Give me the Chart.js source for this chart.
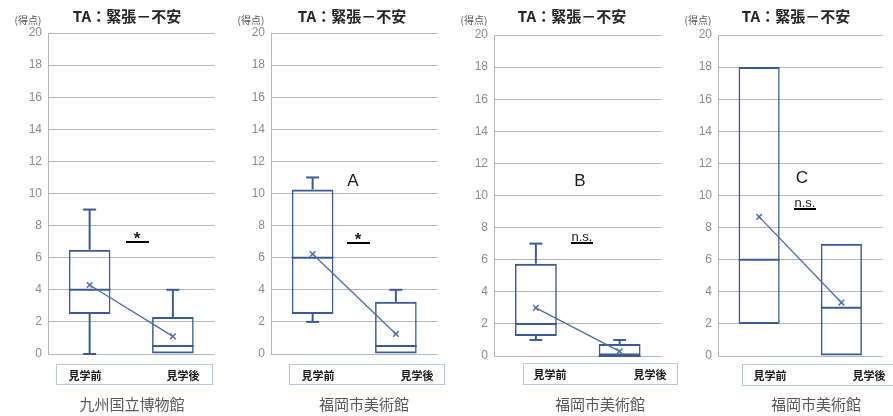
<!DOCTYPE html>
<html lang="ja">
<head>
<meta charset="utf-8">
<script src="https://cdn.jsdelivr.net/npm/chart.js@4.4.1/dist/chart.umd.min.js"></script>
<style>
  body { margin: 0; background: #fff; }
  #wrap { position: relative; width: 893px; height: 416px; overflow: hidden; font-family: 'Noto Sans CJK JP', 'Liberation Sans', sans-serif; }
  canvas { position: absolute; top: 0; }
  .t { position: absolute; white-space: nowrap; line-height: 1; transform: translate(-50%, -50%); }
  .title { font-size: 15px; font-weight: bold; color: #262626; }
  .unit { font-size: 10px; color: #595959; }
  .cat { font-size: 11px; font-weight: bold; color: #1a1a1a; }
  .venue { font-size: 15px; color: #595959; }
  .group { font-size: 17px; color: #1a1a1a; font-family: 'Liberation Sans', sans-serif; }
  .star { font-size: 17px; font-weight: bold; color: #1a1a1a; font-family: 'Liberation Sans', sans-serif; }
  .ns { font-size: 13px; color: #1a1a1a; font-family: 'Liberation Sans', sans-serif; }
  .box { position: absolute; border: 1px solid #b4c7e7; box-sizing: border-box; }
  .bar { position: absolute; height: 2px; background: #000; }
</style>
</head>
<body>
<div id="wrap"></div>
<script>
// データ
const categories = ['見学前', '見学後'];
const venueNames = ['九州国立博物館', '福岡市美術館', '福岡市美術館', '福岡市美術館'];
const chartTitle = 'TA：緊張－不安';
const unitLabel = '(得点)';
const groupMarks = ['', 'A', 'B', 'C'];
const sigMarks = ['*', '*', 'n.s.', 'n.s.'];
const yMin = 0, yMax = 20, yStep = 2;

const minValues = [[0, 0], [2, 0], [1, 0], [2, 0]];
const q1Values = [[2.5, 0], [2.5, 0], [1.25, 0], [2, 0]];
const medianValues = [[4, 0.5], [6, 0.5], [2, 0], [6, 3]];
const q3Values = [[6.5, 2.3], [10.25, 3.25], [5.75, 0.75], [18, 7]];
const maxValues = [[9, 4], [11, 4], [7, 1], [18, 7]];
const meanValues = [[4.3, 1.1], [6.23, 1.25], [3.0, 0.29], [8.67, 3.33]];

// レイアウト (px)
const axisLeft = [48, 271, 494, 718];
const axisRight = [218, 441, 665, 886];
const topY = [33, 33, 35, 35];
const bottomY = [354, 354, 356, 356];
const titleX = [127, 352, 572, 796];
const unitX = [28, 251, 474, 698];
const legendBox = [[56, 364, 157, 21], [289, 364, 156, 21], [523, 363, 155, 22], [742, 364, 156, 22]];
const catX = [[85, 183], [318, 417], [550, 650], [770, 869]];
const venueX = [132, 364, 600, 816];
const groupPos = [null, [353, 180], [580, 180], [802, 177]];
const sigPos = [[137, 241], [358, 242], [582, 242], [805, 208]];

const boxColor = '#3b5b98';
const meanColor = '#4a6fae';
const gridColor = '#b7b7b7';

const wrap = document.getElementById('wrap');

function addText(text, x, y, cls) {
  const d = document.createElement('div');
  d.className = 't ' + cls;
  d.textContent = text;
  d.style.left = x + 'px';
  d.style.top = y + 'px';
  wrap.appendChild(d);
}

function addBar(x1, x2, y) {
  const d = document.createElement('div');
  d.className = 'bar';
  d.style.left = x1 + 'px';
  d.style.width = (x2 - x1) + 'px';
  d.style.top = y + 'px';
  wrap.appendChild(d);
}

// ひげと中央値
const boxWhisker = {
  id: 'boxWhisker',
  beforeDatasetsDraw(chart, args, opts) {
    const i = opts.panel;
    const ctx = chart.ctx;
    const xs = chart.scales.x, ys = chart.scales.y;
    const bars = chart.getDatasetMeta(1).data;
    ctx.save();
    ctx.strokeStyle = boxColor;
    ctx.lineWidth = 2;
    categories.forEach((c, j) => {
      const cx = xs.getPixelForValue(j);
      const half = bars[j].width / 2;
      const line = (x1, y1, x2, y2) => {
        ctx.beginPath(); ctx.moveTo(x1, y1); ctx.lineTo(x2, y2); ctx.stroke();
      };
      const yMed = ys.getPixelForValue(medianValues[i][j]);
      line(cx - half, yMed, cx + half, yMed);
      if (maxValues[i][j] > q3Values[i][j]) {
        const yT = ys.getPixelForValue(maxValues[i][j]);
        line(cx, ys.getPixelForValue(q3Values[i][j]), cx, yT);
        line(cx - 6.5, yT, cx + 6.5, yT);
      }
      if (minValues[i][j] < q1Values[i][j]) {
        const yB = ys.getPixelForValue(minValues[i][j]);
        line(cx, ys.getPixelForValue(q1Values[i][j]), cx, yB);
        line(cx - 6.5, yB, cx + 6.5, yB);
      }
    });
    ctx.restore();
  }
};

function makePanel(i) {
  const cv = document.createElement('canvas');
  const left = axisLeft[i] - 48;
  const w = axisRight[i] - left + 2;
  cv.width = w;
  cv.height = 416;
  cv.style.left = left + 'px';
  cv.style.width = w + 'px';
  cv.style.height = '416px';
  wrap.appendChild(cv);

  new Chart(cv, {
    type: 'bar',
    data: {
      labels: categories,
      datasets: [
        {
          type: 'line',
          data: meanValues[i],
          borderColor: meanColor,
          borderWidth: 1.3,
          pointStyle: 'crossRot',
          pointRadius: 4,
          pointBorderWidth: 1.5,
          pointBorderColor: meanColor,
          fill: false
        },
        {
          type: 'bar',
          data: categories.map((c, j) => [q1Values[i][j], q3Values[i][j]]),
          backgroundColor: 'rgba(0,0,0,0)',
          borderColor: boxColor,
          borderWidth: { top: 2, bottom: 2, left: 1.5, right: 1.5 },
          borderSkipped: false,
          barPercentage: 0.5,
          categoryPercentage: 1
        }
      ]
    },
    options: {
      responsive: false,
      animation: false,
      layout: { padding: { top: topY[i], bottom: 416 - bottomY[i], left: 0, right: 2 } },
      plugins: {
        legend: { display: false },
        tooltip: { enabled: false },
        boxWhisker: { panel: i }
      },
      scales: {
        x: { display: false },
        y: {
          min: yMin,
          max: yMax,
          ticks: { stepSize: yStep, color: '#8c8c8c', padding: 6, font: { size: 12, family: 'Liberation Sans' } },
          grid: { color: gridColor, drawTicks: false },
          border: { color: gridColor },
          afterFit(s) { s.width = 48; }
        }
      }
    },
    plugins: [boxWhisker]
  });

  // 文字
  addText(chartTitle, titleX[i], 15, 'title');
  addText(unitLabel, unitX[i], 20, 'unit');
  const b = legendBox[i];
  const box = document.createElement('div');
  box.className = 'box';
  box.style.left = b[0] + 'px';
  box.style.top = b[1] + 'px';
  box.style.width = b[2] + 'px';
  box.style.height = b[3] + 'px';
  wrap.appendChild(box);
  categories.forEach((c, j) => addText(c, catX[i][j], b[1] + b[3] / 2, 'cat'));
  addText(venueNames[i], venueX[i], 403, 'venue');
  if (groupMarks[i]) addText(groupMarks[i], groupPos[i][0], groupPos[i][1], 'group');
  const s = sigPos[i];
  if (sigMarks[i] === '*') {
    addText('*', s[0], s[1] - 3, 'star');
    addBar(s[0] - 11.5, s[0] + 11.5, s[1]);
  } else {
    addText(sigMarks[i], s[0], s[1] - 6, 'ns');
    addBar(s[0] - 11, s[0] + 11, s[1]);
  }
}

for (let i = 0; i < 4; i++) makePanel(i);
</script>
</body>
</html>
